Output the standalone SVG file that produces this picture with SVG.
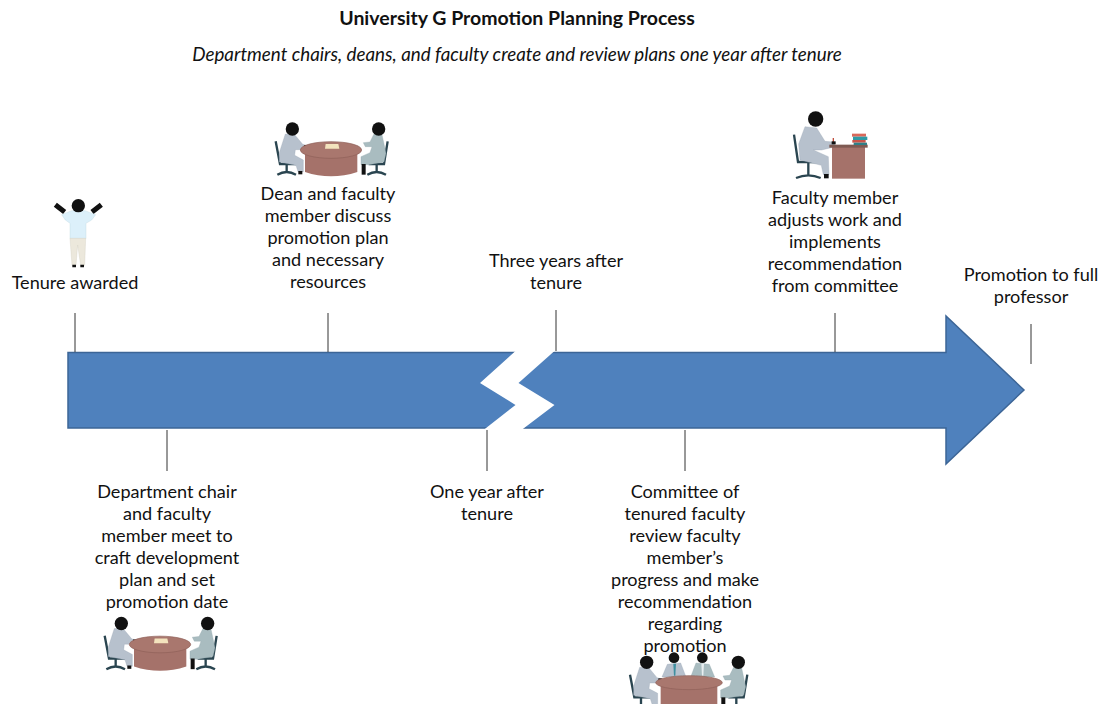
<svg xmlns="http://www.w3.org/2000/svg" width="1108" height="704" viewBox="0 0 1108 704">
<style>
text{font-family:"Lato","Open Sans","Liberation Sans",sans-serif;font-size:18.100px;fill:#111;text-anchor:middle}
.t{font-weight:700;font-size:19.500px}.s{font-style:italic;font-size:18.800px}
.c{stroke:#333;stroke-width:1;fill:none}
.chair{stroke:#2a4550;stroke-width:7;fill:none}
.head{fill:#111}
.suit{fill:#b7c1cd;stroke:#99a5b2;stroke-width:1}.suit2{fill:#a9bcc0;stroke:#8fa5aa;stroke-width:1}
.tbl{fill:#a5726a}.tblt{fill:#a9776e;stroke:#8e5f57;stroke-width:2}
</style>
<defs>
<g id="pL">
<path class="chair" d="M47 94L60 162H108M80 164V188M52 194Q80 178 108 194"/>
<path class="suit" d="M76 72L104 74L128 103L138 106V119L106 119L104 136L130 150V185H114L108 166L58 156L58 128Z"/>
<circle class="head" cx="97" cy="57" r="20"/>
<rect class="head" x="132" y="105" width="11" height="13"/>
<rect class="head" x="115" y="183" width="12" height="10"/>
</g>
<g id="pR">
<path class="chair" d="M383 94L372 162H326M350 164V188M322 194Q350 178 378 194"/>
<path class="suit2" d="M342 72L366 74L378 130L372 156L326 164H303V140L330 128L336 110L316 110L310 98L330 96Z"/>
<circle class="head" cx="356" cy="57" r="20"/>
<rect class="head" x="305" y="162" width="12" height="32"/>
</g>
<g id="meet" transform="scale(.3333)">
<use href="#pL"/><use href="#pR"/>
<path class="tbl" d="M135 125V186Q213 212 292 186V125Z"/>
<ellipse class="tblt" cx="213" cy="120" rx="92" ry="25"/>
<path d="M197 102H235L238 116H195Z" fill="#f3e3bd"/>
</g>
</defs>
<g id="title">
<text class="t" x="517" y="24.500">University G Promotion Planning Process</text>
<text class="s" x="517" y="60.500">Department chairs, deans, and faculty create and review plans one year after tenure</text>
</g>
<g id="timeline">
<path d="M68 352.500H946V316L1024 390L946 464V428H68Z" fill="#4f81bd" stroke="#3c6596" stroke-width="1.500"/>
<path d="M515.500 351L480 383L515.500 405L483.500 430H521.500L554.500 405L518.500 383L554.500 351Z" fill="#fff"/>
</g>
<g id="connectors">
<path class="c" d="M75 313V352M328 313V352M556 310V351M835 313V352M1031 324V364M167 430V471M487 430V471M685 430V471"/>
</g>
<g id="tenure-awarded">
<g transform="translate(40 190) scale(.3333)">
<path d="M46 44L74 66M184 44L156 66" stroke="#111" stroke-width="15" fill="none"/>
<path d="M65 74L95 62H135L167 74L155 90L138 100V146H90V100L76 90Z" fill="#dcf0fa" stroke="#b9d3df" stroke-width="1"/>
<path d="M90 145H137L134 226H122L113 165L108 226H96Z" fill="#ece8dc" stroke="#cfcabb" stroke-width="1"/>
<circle class="head" cx="115" cy="47" r="20"/>
<path d="M97 224h11v8h-11zM121 224h11v8h-11z" fill="#111"/>
</g>
<text x="75" y="288.500">Tenure awarded</text>
</g>
<g id="dean-faculty">
<use href="#meet" transform="translate(260 110)"/>
<text x="328" y="199.500">Dean and faculty</text>
<text x="328" y="221.500">member discuss</text>
<text x="328" y="243.500">promotion plan</text>
<text x="328" y="265.500">and necessary</text>
<text x="328" y="287.500">resources</text>
</g>
<g id="three-years">
<text x="556" y="266.500">Three years after</text>
<text x="556" y="288.500">tenure</text>
</g>
<g id="faculty-adjusts">
<g transform="translate(780 100) scale(.3333)">
<path class="chair" d="M42 104L54 186H122M85 190V226M48 234Q85 218 122 234" stroke-width="9"/>
<path class="suit" d="M75 80L110 84L135 124L160 126L166 140L125 150L100 150L145 170L147 224H130L124 196L60 180L56 132Z"/>
<circle class="head" cx="107" cy="57" r="23"/>
<rect class="head" x="132" y="222" width="14" height="13"/>
<rect x="156" y="135" width="99" height="101" fill="#a5726a"/>
<rect x="148" y="134" width="115" height="9" fill="#7e5a52"/>
<rect x="158" y="114" width="4" height="14" fill="#c0503f"/>
<rect class="head" x="155" y="124" width="12" height="9"/>
<rect x="216" y="101" width="42" height="9" fill="#d9685a"/>
<rect x="219" y="110" width="43" height="10" fill="#2f9aa5"/>
<rect x="217" y="120" width="40" height="8" fill="#c9544a"/>
<rect x="221" y="128" width="40" height="7" fill="#2f7f88"/>
</g>
<text x="835" y="203.500">Faculty member</text>
<text x="835" y="225.500">adjusts work and</text>
<text x="835" y="247.500">implements</text>
<text x="835" y="269.500">recommendation</text>
<text x="835" y="291.500">from committee</text>
</g>
<g id="promotion-full">
<text x="1031" y="280.500">Promotion to full</text>
<text x="1031" y="302.500">professor</text>
</g>
<g id="department-chair">
<text x="167" y="497.500">Department chair</text>
<text x="167" y="519.500">and faculty</text>
<text x="167" y="541.500">member meet to</text>
<text x="167" y="563.500">craft development</text>
<text x="167" y="585.500">plan and set</text>
<text x="167" y="607.500">promotion date</text>
<use href="#meet" transform="translate(89 604.500)"/>
</g>
<g id="one-year">
<text x="487" y="497.500">One year after</text>
<text x="487" y="519.500">tenure</text>
</g>
<g id="committee">
<text x="685" y="497.500">Committee of</text>
<text x="685" y="519.500">tenured faculty</text>
<text x="685" y="541.500">review faculty</text>
<text x="685" y="563.500">member’s</text>
<text x="685" y="585.500">progress and make</text>
<text x="685" y="607.500">recommendation</text>
<text x="685" y="629.500">regarding</text>
<text x="685" y="651.500">promotion</text>
<g transform="translate(620 645) scale(.3333)">
<use href="#pL" transform="translate(-17 -5)"/>
<use href="#pR" transform="translate(-1 -5)"/>
<path class="suit" d="M142 58L182 54L198 96H126Z"/>
<path d="M160 56H168L166 92H162Z" fill="#3f8fa0"/>
<path class="suit2" d="M228 54L268 58L284 96H212Z"/>
<path d="M244 56H252L250 92H246Z" fill="#e8eef0"/>
<circle class="head" cx="162" cy="38" r="16"/>
<circle class="head" cx="247" cy="38" r="16"/>
<path class="tbl" d="M122 122V180H292V122Z"/>
<ellipse class="tblt" cx="207" cy="113" rx="100" ry="21"/>
</g>
</g>
</svg>
